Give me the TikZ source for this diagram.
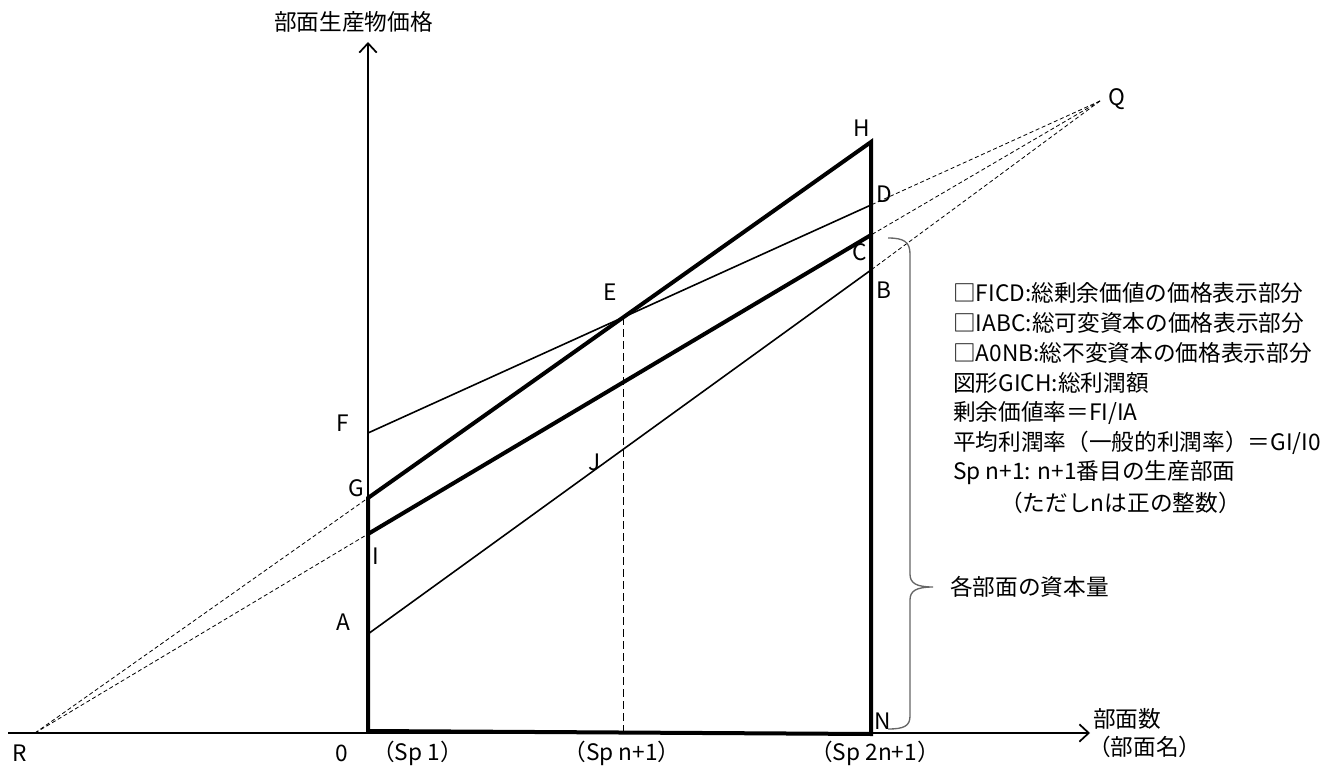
\documentclass[tikz,border=0pt]{standalone}
\usepackage{fontspec}
\setmainfont{Noto Sans CJK JP}
\usetikzlibrary{arrows.meta}
\begin{document}
\begin{tikzpicture}[x=0.75pt,y=-0.75pt,
  font=\fontsize{17}{20}\selectfont,
  axisline/.style={line width=1.3pt,-{Straight Barb[length=7pt,width=13pt,line width=1.3pt]}},
  boldline/.style={line width=3pt,line join=miter},
  thinline/.style={line width=1.2pt},
  guide/.style={line width=0.6pt,dash pattern=on 3pt off 2pt},
  drop/.style={line width=1.2pt,dash pattern=on 6pt off 3pt},
  lbl/.style={inner sep=0pt},
  legend/.style={anchor=west,inner sep=0pt},
  bracecol/.style={draw=black!60,line width=1pt}]
\useasboundingbox (0,0) rectangle (1343,767);
% coordinates
\coordinate (O) at (368,733);
\coordinate (Ytop) at (368,42);
\coordinate (Xl) at (8,733);
\coordinate (Xr) at (1090,733);
\coordinate (F) at (368,433);
\coordinate (G) at (368,498);
\coordinate (I) at (368,534);
\coordinate (A) at (368,634);
\coordinate (Bot) at (368,731);
\coordinate (H) at (871,142);
\coordinate (D) at (871,205);
\coordinate (C) at (871,235);
\coordinate (B) at (871,270);
\coordinate (N) at (871,734);
\coordinate (R) at (35,733);
\coordinate (Q) at (1100,101);
\coordinate (E) at (intersection of G--H and F--D);
\coordinate (Efoot) at (E |- O);
% axes
\draw[axisline] (Xl) -- (Xr);
\draw[axisline] (O) -- (Ytop);
% guide lines
\draw[guide] (R) -- (G);
\draw[guide] (R) -- (I);
\draw[guide] (Q) -- (D);
\draw[guide] (Q) -- (C);
\draw[guide] (Q) -- (B);
\draw[drop] (E) -- (Efoot);
% thin lines
\draw[thinline] (F) -- (D);
\draw[thinline] (A) -- (B);
% bold lines
\draw[boldline] (G) -- (Bot) -- (N) -- (H) -- cycle;
\draw[boldline] (I) -- (C);
% brace
\coordinate (brT) at (888,238);
\coordinate (brM) at (933,587);
\coordinate (brB) at (888,729);
\draw[bracecol] (brT) .. controls (904,238) and (910,242) .. (910,254) -- (910,574)
  .. controls (910,583) and (916,587) .. (brM)
  .. controls (916,587) and (910,591) .. (910,600) -- (910,716)
  .. controls (910,726) and (904,729) .. (brB);
\node[legend] (capital) at (950,587) {各部面の資本量};
% point labels
\node[lbl] (lH) at (862,128) {H};
\node[lbl] (lD) at (884,194) {D};
\node[lbl] (lC) at (860,252) {C};
\node[lbl] (lB) at (884,290) {B};
\node[lbl] (lE) at (610,292) {E};
\node[lbl] (lF) at (343,423) {F};
\node[lbl] (lG) at (356,488) {G};
\node[lbl] (lI) at (376,556) {I};
\node[lbl] (lA) at (343,622) {A};
\node[lbl] (lJ) at (595,462) {J};
\node[lbl] (lN) at (883,721) {N};
\node[lbl] (lQ) at (1117,99) {Q};
\node[lbl] (lR) at (20,753) {R};
\node[lbl] (l0) at (342,753) {0};
\node[legend] (s1) at (372,753) {（Sp 1）};
\node[lbl] (sn) at (622,753) {（Sp n+1）};
\node[lbl] (s2n) at (875,753) {（Sp 2n+1）};
% axis titles
\node[lbl,anchor=east] (ytitle) at (433,22) {部面生産物価格};
\node[legend] (xtitle1) at (1093,719) {部面数};
\node[legend] (xtitle2) at (1088,747) {（部面名）};
% legend
\node[legend] (L1) at (953,293) {□FICD:総剰余価値の価格表示部分};
\node[legend] (L2) at (953,323) {□IABC:総可変資本の価格表示部分};
\node[legend] (L3) at (953,353) {□A0NB:総不変資本の価格表示部分};
\node[legend] (L4) at (953,383) {図形GICH:総利潤額};
\node[legend] (L5) at (953,413) {剰余価値率＝FI/IA};
\node[legend] (L6) at (953,443) {平均利潤率（一般的利潤率）＝GI/I0};
\node[legend] (L7) at (953,473) {Sp n+1: n+1番目の生産部面};
\node[legend] (L8) at (1000,503) {（ただしnは正の整数）};
\end{tikzpicture}
\end{document}
